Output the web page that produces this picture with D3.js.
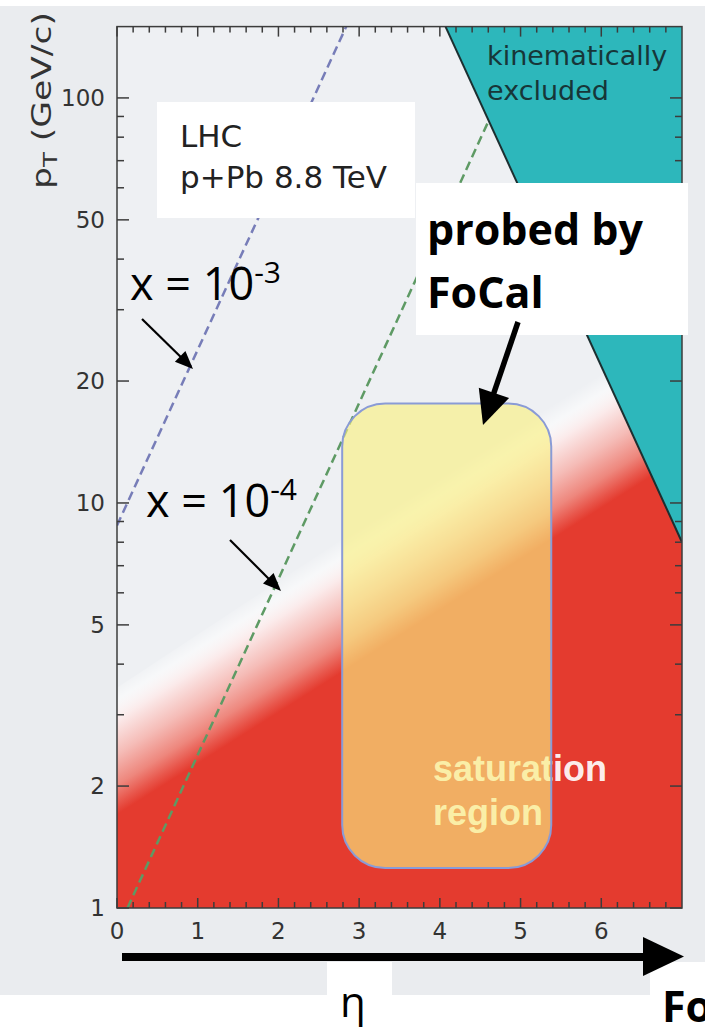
<!DOCTYPE html>
<html>
<head>
<meta charset="utf-8">
<script src="https://cdn.jsdelivr.net/npm/d3@7"></script>
<style>
  html, body { margin: 0; padding: 0; background: #ffffff; }
  svg { display: block; }
</style>
</head>
<body>
<svg id="chart" width="705" height="1030"></svg>
<script>
// ---- data -------------------------------------------------------------
// pseudorapidity axis ticks
const etaTicks = [0, 1, 2, 3, 4, 5, 6];
const etaMinorStep = 0.2;
const etaDomain = [0, 7];
// transverse momentum axis (log)
const ptDomain = [1, 150];
const ptTicks = [1, 2, 5, 10, 20, 50, 100];
const ptTickLabels = ["1", "2", "5", "10", "20", "50", "100"];
const ptMinorTicks = [3, 4, 6, 7, 8, 9, 30, 40, 60, 70, 80, 90];
// constant Bjorken-x lines, endpoints as [eta, pT]
const lineX3 = [[0, 8.8], [2.84, 150]];
const lineX4 = [[0.13, 1], [5.14, 150]];
// kinematic limit edge, [eta, pT]
const kinEdge = [[4.07, 150], [7, 8.0]];
// saturation region: where it starts to show and where it is fully saturated
const satOnset = [[0, 3.5], [7, 29]];
const satFull = [[0, 1.7], [7, 13]];
// FoCal acceptance window
const focalEta = [2.79, 5.38];
const focalPt = [1.255, 17.6];

// ---- layout -------------------------------------------------------------
const svg = d3.select("#chart");
const plot = { left: 117, right: 682, top: 26.6, bottom: 908 };

const x = d3.scaleLinear().domain(etaDomain).range([plot.left, plot.right]);
const y = d3.scaleLog().domain(ptDomain).range([plot.bottom, plot.top]);

const ROOTFONT = "'DejaVu Sans', sans-serif";
const SLIDEFONT = "'Open Sans', sans-serif";

// slide background pieces
const bg = svg.append("g");
bg.append("rect").attr("x", 0).attr("y", 6).attr("width", 705).attr("height", 956).attr("fill", "#eaecef");
bg.append("rect").attr("x", 0).attr("y", 962).attr("width", 327).attr("height", 33).attr("fill", "#eaecef");
bg.append("rect").attr("x", 392).attr("y", 962).attr("width", 258).attr("height", 33).attr("fill", "#eaecef");
bg.append("rect").attr("x", plot.left).attr("y", plot.top)
  .attr("width", plot.right - plot.left).attr("height", plot.bottom - plot.top)
  .attr("fill", "#eef0f3");

const defs = svg.append("defs");
defs.append("clipPath").attr("id", "plotClip")
  .append("rect").attr("x", plot.left).attr("y", plot.top)
  .attr("width", plot.right - plot.left).attr("height", plot.bottom - plot.top);

const pt = d => [x(d[0]), y(d[1])];

// ---- saturation gradient ---------------------------------------------------
const o0 = pt(satOnset[0]), o1 = pt(satOnset[1]);
const f0 = pt(satFull[0]), f1 = pt(satFull[1]);
const P = [(o0[0] + o1[0]) / 2, (o0[1] + o1[1]) / 2];
// project P onto the full-saturation line
const fx = f1[0] - f0[0], fy = f1[1] - f0[1];
const t = ((P[0] - f0[0]) * fx + (P[1] - f0[1]) * fy) / (fx * fx + fy * fy);
const Q = [f0[0] + t * fx, f0[1] + t * fy];

const grad = defs.append("linearGradient").attr("id", "satGrad")
  .attr("gradientUnits", "userSpaceOnUse")
  .attr("x1", P[0]).attr("y1", P[1]).attr("x2", Q[0]).attr("y2", Q[1]);
[
  [0, "#ffffff", 0],
  [0.14, "#ffffff", 0.55],
  [0.3, "#fbeaea", 1],
  [0.55, "#f5bcb7", 1],
  [0.78, "#ee877d", 1],
  [0.92, "#e8554a", 1],
  [1, "#e43b2f", 1]
].forEach(s => grad.append("stop").attr("offset", s[0]).attr("stop-color", s[1]).attr("stop-opacity", s[2]));

const content = svg.append("g").attr("clip-path", "url(#plotClip)");

content.append("path")
  .attr("d", d3.line()([o0, o1, pt([etaDomain[1], ptDomain[0]]), pt([etaDomain[0], ptDomain[0]])]) + "Z")
  .attr("fill", "url(#satGrad)");

// constant-x lines
const lineGen = d3.line().x(d => x(d[0])).y(d => y(d[1]));
content.append("path").attr("d", lineGen(lineX3))
  .attr("fill", "none").attr("stroke", "#777db8").attr("stroke-width", 2.5)
  .attr("stroke-dasharray", "9,5");
content.append("path").attr("d", lineGen(lineX4))
  .attr("fill", "none").attr("stroke", "#5e9a64").attr("stroke-width", 2.5)
  .attr("stroke-dasharray", "9,5");

// kinematically excluded region
const kinPoly = [kinEdge[0], kinEdge[1], [etaDomain[1], ptDomain[1]]];
content.append("path").attr("d", lineGen(kinPoly) + "Z").attr("fill", "#2db7bb");
content.append("path").attr("d", lineGen(kinEdge))
  .attr("fill", "none").attr("stroke", "#1c2f30").attr("stroke-width", 2);

// ---- frame and ticks -------------------------------------------------------
const axisCol = "#3c3c3c";
const fr = svg.append("g").attr("stroke", axisCol).attr("stroke-width", 1.5);
fr.append("rect").attr("x", plot.left).attr("y", plot.top)
  .attr("width", plot.right - plot.left).attr("height", plot.bottom - plot.top)
  .attr("fill", "none");

const etaMinor = d3.range(etaDomain[0], etaDomain[1] + 1e-9, etaMinorStep)
  .filter(v => Math.abs(v - Math.round(v)) > 1e-6);
etaTicks.forEach(v => {
  fr.append("line").attr("x1", x(v)).attr("x2", x(v)).attr("y1", plot.bottom).attr("y2", plot.bottom - 10);
  fr.append("line").attr("x1", x(v)).attr("x2", x(v)).attr("y1", plot.top).attr("y2", plot.top + 10);
});
etaMinor.forEach(v => {
  fr.append("line").attr("x1", x(v)).attr("x2", x(v)).attr("y1", plot.bottom).attr("y2", plot.bottom - 6);
  fr.append("line").attr("x1", x(v)).attr("x2", x(v)).attr("y1", plot.top).attr("y2", plot.top + 6);
});
ptTicks.forEach(v => {
  fr.append("line").attr("y1", y(v)).attr("y2", y(v)).attr("x1", plot.left).attr("x2", plot.left + 12);
  fr.append("line").attr("y1", y(v)).attr("y2", y(v)).attr("x1", plot.right).attr("x2", plot.right - 12);
});
ptMinorTicks.forEach(v => {
  fr.append("line").attr("y1", y(v)).attr("y2", y(v)).attr("x1", plot.left).attr("x2", plot.left + 7);
  fr.append("line").attr("y1", y(v)).attr("y2", y(v)).attr("x1", plot.right).attr("x2", plot.right - 7);
});

// tick labels
const lab = svg.append("g").attr("font-family", ROOTFONT).attr("font-size", 23).attr("fill", "#333");
etaTicks.forEach(v => {
  lab.append("text").attr("x", x(v)).attr("y", 939).attr("text-anchor", "middle").text(v);
});
ptTicks.forEach((v, i) => {
  lab.append("text").attr("x", 105).attr("y", y(v)).attr("dy", "0.36em")
    .attr("text-anchor", "end").text(ptTickLabels[i]);
});

// y-axis title
const yt = svg.append("text")
  .attr("transform", "translate(51,189) rotate(-90)")
  .attr("font-family", ROOTFONT).attr("font-size", 27).attr("fill", "#333")
  .attr("textLength", 177).attr("lengthAdjust", "spacingAndGlyphs");
yt.append("tspan").text("p");
yt.append("tspan").attr("font-size", 19).attr("dy", 6).text("T");
yt.append("tspan").attr("dy", -6).text(" (GeV/c)");

// region labels
const kin = svg.append("g").attr("font-family", ROOTFONT).attr("font-size", 27).attr("fill", "#173638");
kin.append("text").attr("x", 487).attr("y", 65).text("kinematically");
kin.append("text").attr("x", 487).attr("y", 100).text("excluded");

const sat = svg.append("g").attr("font-family", "'Liberation Sans', Arial, sans-serif")
  .attr("font-weight", "bold").attr("font-size", 36).attr("fill", "#ffffff").attr("fill-opacity", 0.93);
sat.append("text").attr("x", 433).attr("y", 781).text("saturation");
sat.append("text").attr("x", 433).attr("y", 825).text("region");

// FoCal acceptance window (translucent)
svg.append("rect")
  .attr("x", x(focalEta[0])).attr("y", y(focalPt[1]))
  .attr("width", x(focalEta[1]) - x(focalEta[0])).attr("height", y(focalPt[0]) - y(focalPt[1]))
  .attr("rx", 43).attr("ry", 43)
  .attr("fill", "#f9f080").attr("fill-opacity", 0.64)
  .attr("stroke", "#8a9bd6").attr("stroke-width", 2);

// ---- annotation boxes ------------------------------------------------------
svg.append("rect").attr("x", 157).attr("y", 102).attr("width", 258).attr("height", 116).attr("fill", "#ffffff");
const lhc = svg.append("g").attr("font-family", ROOTFONT).attr("font-size", 31).attr("fill", "#222");
lhc.append("text").attr("x", 180).attr("y", 147).text("LHC");
lhc.append("text").attr("x", 180).attr("y", 188).text("p+Pb 8.8 TeV");

svg.append("rect").attr("x", 416).attr("y", 183).attr("width", 272).attr("height", 152).attr("fill", "#ffffff");
const pb = svg.append("g").attr("font-family", SLIDEFONT).attr("font-weight", 700)
  .attr("font-size", 43).attr("fill", "#000");
pb.append("text").attr("x", 427).attr("y", 245).text("probed by");
pb.append("text").attr("x", 427).attr("y", 308).text("FoCal");

// arrows
function arrow(g, x0, y0, x1, y1, w, headLen, headW) {
  const dx = x1 - x0, dy = y1 - y0, L = Math.hypot(dx, dy);
  const ux = dx / L, uy = dy / L;
  const bx = x1 - ux * headLen, by = y1 - uy * headLen;
  g.append("line").attr("x1", x0).attr("y1", y0).attr("x2", bx + ux * 2).attr("y2", by + uy * 2)
    .attr("stroke", "#000").attr("stroke-width", w);
  g.append("path")
    .attr("d", `M${x1},${y1}L${bx - uy * headW / 2},${by + ux * headW / 2}L${bx + uy * headW / 2},${by - ux * headW / 2}Z`)
    .attr("fill", "#000");
}
const ann = svg.append("g");
arrow(ann, 518, 322, 483, 425, 5.5, 34, 32);
arrow(ann, 142, 319, 193, 369, 2.2, 18, 15);
arrow(ann, 230, 540, 281, 591, 2.2, 18, 15);

// constant-x labels
function xLabel(xp, yp, power) {
  const tx = svg.append("text").attr("x", xp).attr("y", yp)
    .attr("font-family", SLIDEFONT).attr("font-size", 45).attr("fill", "#000");
  tx.append("tspan").text("x = 10");
  tx.append("tspan").attr("font-size", 30).attr("dy", -17).text(power);
}
xLabel(130, 300, "-3");
xLabel(146, 517, "-4");

// rapidity arrow and axis captions
svg.append("line").attr("x1", 122).attr("y1", 957).attr("x2", 646).attr("y2", 957)
  .attr("stroke", "#000").attr("stroke-width", 8);
svg.append("path").attr("d", "M643,937L684,956.5L643,976Z").attr("fill", "#000");

svg.append("text").attr("x", 353).attr("y", 1017).attr("text-anchor", "middle")
  .attr("font-family", SLIDEFONT).attr("font-size", 42).attr("fill", "#000").text("η");
svg.append("text").attr("x", 662).attr("y", 1022)
  .attr("font-family", SLIDEFONT).attr("font-weight", 700).attr("font-size", 43).attr("fill", "#000").text("FoCal");
</script>
</body>
</html>
